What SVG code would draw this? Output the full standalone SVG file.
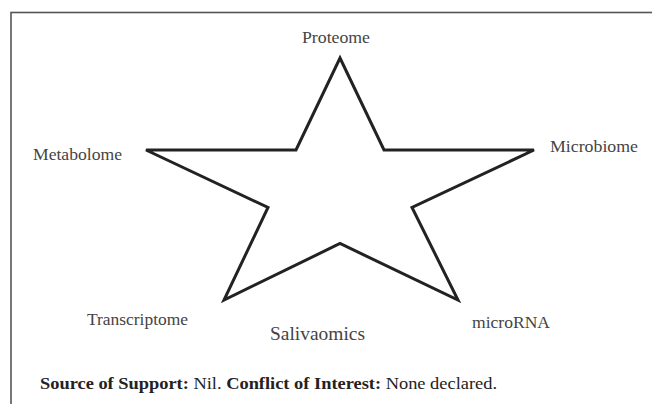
<svg xmlns="http://www.w3.org/2000/svg" width="652" height="404" viewBox="0 0 652 404">
  <style>
    text { font-family: "Liberation Serif", "Times New Roman", Times, serif; }
    .lbl { font-size: 17px; fill: #444; }
    .foot { font-size: 17.5px; fill: #222; }
    .b { font-weight: bold; }
  </style>
  <rect width="652" height="404" fill="#fff"/>
  <rect x="11" y="12.5" width="700" height="500" fill="none" stroke="#555" stroke-width="1.6"/>
  <g id="star">
    <polygon points="340,58 384,150 534,150 412,207.5 458,300 340,243.5 224,300 268,207.5 146,150 296,150" fill="#fff" stroke="#222" stroke-width="3" stroke-linejoin="miter"/>
  </g>
  <g id="proteome"><text class="lbl" x="302" y="43" textLength="68" lengthAdjust="spacingAndGlyphs">Proteome</text></g>
  <g id="metabolome"><text class="lbl" x="33" y="160" textLength="89" lengthAdjust="spacingAndGlyphs">Metabolome</text></g>
  <g id="microbiome"><text class="lbl" x="550" y="152" textLength="88" lengthAdjust="spacingAndGlyphs">Microbiome</text></g>
  <g id="transcriptome"><text class="lbl" x="87" y="325" textLength="101" lengthAdjust="spacingAndGlyphs">Transcriptome</text></g>
  <g id="microrna"><text class="lbl" x="472" y="328" textLength="78" lengthAdjust="spacingAndGlyphs">microRNA</text></g>
  <g id="salivaomics"><text class="lbl" x="270" y="340" textLength="95" lengthAdjust="spacingAndGlyphs" style="font-size:19px">Salivaomics</text></g>
  <g id="footer"><text class="foot" x="40" y="389" textLength="457" lengthAdjust="spacingAndGlyphs"><tspan class="b">Source of Support:</tspan> Nil. <tspan class="b">Conflict of Interest:</tspan> None declared.</text></g>
</svg>
